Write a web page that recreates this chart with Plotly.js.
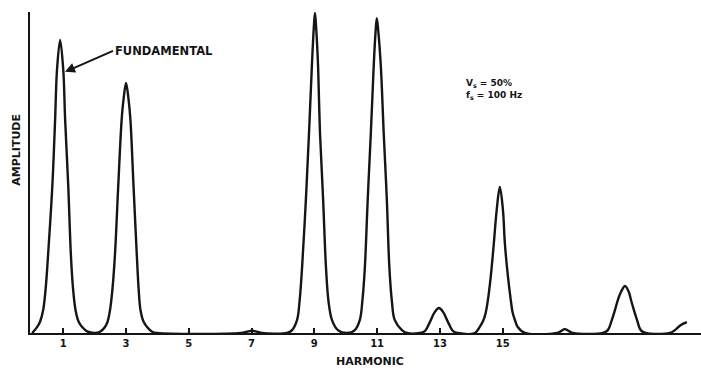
<!DOCTYPE html>
<html>
<head>
<meta charset="utf-8">
<script src="https://cdn.plot.ly/plotly-3.0.1.min.js"></script>
<style>
  html, body { margin: 0; padding: 0; background: #ffffff; }
  #chart { width: 701px; height: 368px; }
</style>
</head>
<body>
<div id="chart"></div>
<script>
// Harmonic spectrum of the output voltage.
// Harmonic order (x) and relative amplitude (y, axis top = 100).
const harmonic = [
  // fundamental
  0.01, 0.17, 0.26, 0.36, 0.44, 0.52, 0.65, 0.74, 0.80, 0.90, 1.00, 1.06, 1.16, 1.24, 1.31, 1.39, 1.49, 1.60, 1.76,
  // 3rd
  2.01, 2.17, 2.33, 2.41, 2.49, 2.57, 2.65, 2.75, 2.86, 2.92, 3.00, 3.08, 3.14, 3.24, 3.34, 3.40, 3.46, 3.56, 3.67, 3.83, 3.99,
  // 7th (trace)
  6.66, 6.85, 7.01, 7.17, 7.33,
  // 9th
  8.13, 8.29, 8.45, 8.53, 8.61, 8.73, 8.83, 8.92, 8.98, 9.02, 9.06, 9.12, 9.18, 9.28, 9.37, 9.45, 9.56, 9.75,
  // 11th
  10.04, 10.29, 10.45, 10.53, 10.61, 10.70, 10.80, 10.89, 10.95, 10.99, 11.04, 11.12, 11.21, 11.31, 11.39, 11.47, 11.56, 11.79, 11.95,
  // 13th
  12.36, 12.52, 12.68, 12.84, 12.97, 13.10, 13.26, 13.42, 13.57,
  // 15th
  14.11, 14.27, 14.38, 14.46, 14.54, 14.62, 14.72, 14.81, 14.91, 15.01, 15.07, 15.17, 15.25, 15.32, 15.40, 15.48, 15.71,
  // 17th (trace)
  16.73, 16.86, 16.98, 17.11, 17.24,
  // 19th
  18.19, 18.35, 18.48, 18.58, 18.67, 18.77, 18.90, 19.02, 19.09, 19.18, 19.28, 19.40, 19.56,
  // rise of the 21st
  20.33, 20.49, 20.68, 20.87
];
const amplitude = [
  0, 1.9, 3.5, 7.2, 14, 25.0, 45.6, 66.6, 82.2, 91.6, 82.2, 66.6, 45.6, 25.0, 14, 7.2, 3.5, 1.9, 0.5,
  0, 0.4, 1.9, 3.5, 7.2, 14, 25.0, 45.6, 66.6, 73, 78.1, 73, 66.6, 45.6, 25.0, 14, 7.2, 3.5, 1.9, 0.4, 0,
  0, 0.4, 0.7, 0.4, 0,
  0, 0.9, 4.1, 10, 20.6, 41.6, 62.5, 83.1, 95, 100, 95, 83.1, 62.5, 41.6, 20.6, 10, 4.1, 0.9,
  0, 0.9, 4.1, 10, 20.6, 41.6, 62.5, 83.1, 94, 98.4, 94, 83.1, 62.5, 41.6, 20.6, 10, 4.1, 0.9, 0,
  0, 0.6, 3.4, 6.6, 7.8, 6.6, 3.4, 0.6, 0,
  0, 1.9, 3.8, 6.3, 11, 17.5, 28.1, 38.4, 45.6, 38.4, 28.1, 17.5, 11, 6.3, 3.8, 1.9, 0,
  0, 0.6, 1.2, 0.6, 0,
  0, 0.9, 4.1, 7.2, 10.3, 12.8, 14.7, 12.8, 10.3, 7.2, 4.1, 0.9, 0,
  0, 0.9, 2.5, 3.4
];

// Labelled harmonic orders on the x axis
const tickHarmonics = [1, 3, 5, 7, 9, 11, 13, 15];
const tickLabels = ['1', '3', '5', '7', '9', '11', '13', '15'];

// Point on the fundamental peak that the label arrow touches
const fundamentalMark = { harmonic: 1.055, amplitude: 81.6 };

const ink = '#151515';
const boldFont = (size) => ({ family: 'DejaVu Sans, Arial, sans-serif', size: size, color: ink, weight: 'bold' });

const trace = {
  x: harmonic,
  y: amplitude,
  type: 'scatter',
  mode: 'lines',
  line: { color: ink, width: 2.4, shape: 'spline', smoothing: 1 },
  hoverinfo: 'x+y',
  showlegend: false
};

const layout = {
  width: 701,
  height: 368,
  margin: { l: 30, r: 0, t: 12, b: 35 },
  paper_bgcolor: '#ffffff',
  plot_bgcolor: '#ffffff',
  showlegend: false,
  xaxis: {
    range: [-0.06, 21.32],
    showgrid: false,
    zeroline: false,
    showline: true,
    linecolor: ink,
    linewidth: 2,
    ticks: 'inside',
    ticklen: 5,
    tickwidth: 2,
    tickcolor: ink,
    tickvals: tickHarmonics,
    ticktext: tickLabels,
    tickfont: boldFont(10),
    fixedrange: true
  },
  yaxis: {
    range: [0, 100.3],
    showgrid: false,
    zeroline: false,
    showline: true,
    linecolor: ink,
    linewidth: 2,
    ticks: '',
    showticklabels: false,
    fixedrange: true
  },
  annotations: [
    {
      x: fundamentalMark.harmonic, y: fundamentalMark.amplitude,
      xref: 'x', yref: 'y',
      text: 'FUNDAMENTAL',
      font: boldFont(11.5),
      showarrow: true,
      arrowhead: 2, arrowsize: 1, arrowwidth: 2, arrowcolor: ink,
      ax: 48, ay: -21,
      xanchor: 'left', yanchor: 'middle',
      standoff: 0, startstandoff: 0
    },
    {
      x: 0.6468, y: 0.7586, xref: 'paper', yref: 'paper',
      text: 'V<sub>s</sub> = 50%<br>f<sub>s</sub> = 100 Hz',
      font: boldFont(9), align: 'left',
      xanchor: 'left', yanchor: 'middle', showarrow: false
    },
    {
      x: 0.5067, y: -0.0903, xref: 'paper', yref: 'paper',
      text: 'HARMONIC', font: boldFont(11),
      xanchor: 'center', yanchor: 'middle', showarrow: false
    },
    {
      x: -0.0213, y: 0.570, xref: 'paper', yref: 'paper',
      text: 'AMPLITUDE', font: boldFont(11), textangle: -90,
      xanchor: 'center', yanchor: 'middle', showarrow: false
    }
  ]
};

Plotly.newPlot('chart', [trace], layout, { displayModeBar: false, staticPlot: true });
</script>
</body>
</html>
